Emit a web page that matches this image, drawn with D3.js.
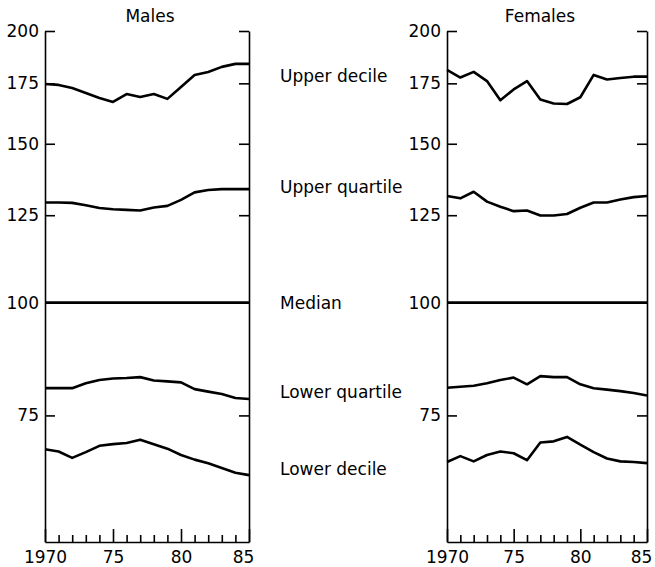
<!DOCTYPE html>
<html>
<head>
<meta charset="utf-8">
<script src="https://cdn.jsdelivr.net/npm/d3@7"></script>
<style>
body{margin:0;background:#fff}
svg{display:block;background:#fff}
text{font-family:"DejaVu Sans",sans-serif;font-size:17px;fill:#000}
</style>
</head>
<body>
<svg id="chart" width="655" height="567"></svg>
<script>
// values are indices, median = 100 (log scale)
var years = [1970,1971,1972,1973,1974,1975,1976,1977,1978,1979,1980,1981,1982,1983,1984,1985];
var yTicks = [75,100,125,150,175,200];
var xLabelled = [1970,1975,1980,1985];
var seriesNames = ["Upper decile","Upper quartile","Median","Lower quartile","Lower decile"];
var panelTitles = ["Males","Females"];

var malesUpperDecile   = [174.7,174.3,172.9,170.7,168.6,166.9,170.3,169.0,170.3,168.2,173.4,178.8,180.1,182.5,183.9,183.9];
var malesUpperQuartile = [129.1,129.1,129.0,128.2,127.3,126.9,126.7,126.5,127.5,128.0,130.0,132.5,133.3,133.6,133.6,133.6];
var malesMedian        = [100,100,100,100,100,100,100,100,100,100,100,100,100,100,100,100];
var malesLowerQuartile = [80.4,80.4,80.4,81.4,82.1,82.4,82.5,82.7,82.0,81.8,81.6,80.2,79.7,79.2,78.4,78.2];
var malesLowerDecile   = [68.8,68.4,67.3,68.3,69.4,69.7,69.9,70.5,69.7,68.9,67.8,67.0,66.4,65.6,64.8,64.4];

var femalesUpperDecile   = [181.1,177.6,180.2,176.0,167.6,172.3,176.0,167.9,166.2,166.0,168.9,178.8,176.7,177.4,178.0,178.0];
var femalesUpperQuartile = [131.3,130.5,132.7,129.4,127.7,126.3,126.5,124.9,124.9,125.4,127.4,129.1,129.1,130.1,130.9,131.3];
var femalesMedian        = [100,100,100,100,100,100,100,100,100,100,100,100,100,100,100,100];
var femalesLowerQuartile = [80.5,80.7,80.9,81.4,82.1,82.6,81.2,82.9,82.7,82.7,81.2,80.4,80.1,79.8,79.4,78.9];
var femalesLowerDecile   = [66.6,67.6,66.7,67.8,68.4,68.1,66.9,70.0,70.2,71.0,69.6,68.3,67.2,66.7,66.6,66.4];

var svg = d3.select("#chart");
var y = d3.scaleLog().domain([54.3, 200]).range([542, 31]);

var panels = [
    { title: panelTitles[0], left: 45, right: 249, titleX: 150,
      series: [malesUpperDecile, malesUpperQuartile, malesMedian, malesLowerQuartile, malesLowerDecile] },
    { title: panelTitles[1], left: 447, right: 647, titleX: 540,
      series: [femalesUpperDecile, femalesUpperQuartile, femalesMedian, femalesLowerQuartile, femalesLowerDecile] }
];

function styleAxis(g) {
    g.attr("font-size", null).attr("font-family", null);
    g.selectAll("path,line").attr("stroke", "#000").attr("stroke-width", 1.6);
}

panels.forEach(function(p) {
    var x = d3.scaleLinear().domain([1970, 1985]).range([p.left, p.right]);
    var g = svg.append("g");

    g.append("g").attr("transform", "translate(" + p.left + ",0)")
        .call(d3.axisLeft(y).tickValues(yTicks).tickFormat(d3.format("d"))
            .tickSizeInner(-10).tickSizeOuter(0).tickPadding(6))
        .call(styleAxis);

    g.append("g").attr("transform", "translate(" + p.right + ",0)")
        .call(d3.axisRight(y).tickValues(yTicks).tickFormat(function() { return ""; })
            .tickSizeInner(-10).tickSizeOuter(0))
        .call(styleAxis);

    var xa = g.append("g").attr("transform", "translate(0,542)")
        .call(d3.axisBottom(x).tickValues(years)
            .tickFormat(function(d) {
                if (xLabelled.indexOf(d) < 0) return "";
                return d === 1970 ? "1970" : String(d).slice(2);
            })
            .tickSizeInner(-7).tickSizeOuter(0).tickPadding(9))
        .call(styleAxis);
    xa.selectAll(".tick line").attr("y2", function(d) { return d % 5 === 0 ? -13 : -7; });
    // last label sits a little left of its tick, as in the print
    xa.selectAll(".tick text").attr("dx", function(d) { return d === 1985 ? -6 : 0; });

    var line = d3.line()
        .x(function(d, i) { return x(years[i]); })
        .y(function(d) { return y(d); });

    g.selectAll("path.series").data(p.series).enter().append("path")
        .attr("class", "series")
        .attr("d", line)
        .attr("fill", "none")
        .attr("stroke", "#000")
        .attr("stroke-width", 2.6)
        .attr("stroke-linejoin", "round");

    g.append("text").attr("x", p.titleX).attr("y", 22)
        .attr("text-anchor", "middle").text(p.title);
});

// series labels between the panels
var labelBase = [82, 193, 309, 398, 475];
svg.selectAll("text.lab").data(seriesNames).enter().append("text")
    .attr("class", "lab")
    .attr("x", 280)
    .attr("y", function(d, i) { return labelBase[i]; })
    .text(function(d) { return d; });
</script>
</body>
</html>
